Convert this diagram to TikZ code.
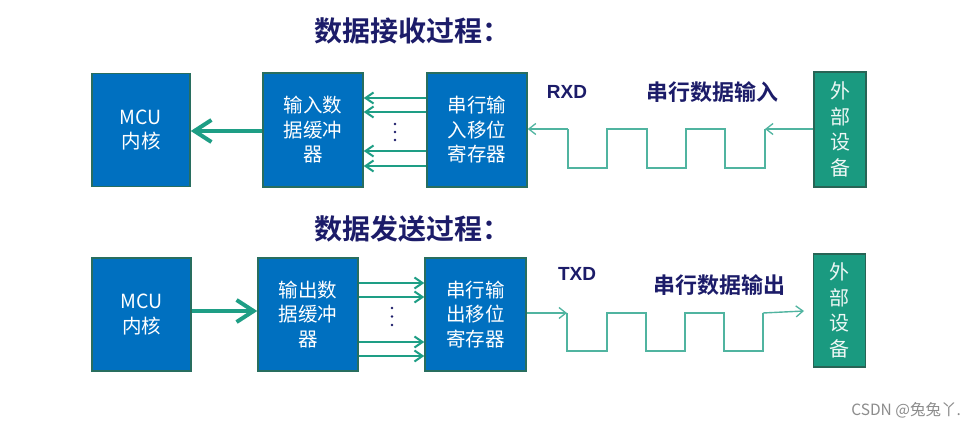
\documentclass[tikz,border=0pt]{standalone}
\usepackage{fontspec}
\setmainfont{Liberation Sans}
\newfontfamily\cjk{Noto Sans CJK SC}
\newfontfamily\cjkb{Noto Sans CJK SC Bold}
\newfontfamily\arialb{Liberation Sans Bold}
\usetikzlibrary{arrows.meta}
\definecolor{boxblue}{RGB}{0,112,192}
\definecolor{boxedge}{RGB}{40,110,95}
\definecolor{extfill}{RGB}{26,154,128}
\definecolor{extedge}{RGB}{40,100,85}
\definecolor{arrowteal}{RGB}{30,158,133}
\definecolor{wavecol}{RGB}{80,180,160}
\definecolor{navy}{RGB}{28,28,105}
\tikzset{
  blk/.style={draw=boxedge, line width=1.5pt, fill=boxblue, text=white,
    font=\cjk\fontsize{19.5}{24.5}\selectfont, align=center, inner sep=0pt},
  extblk/.style={draw=extedge, line width=1.5pt, fill=extfill, text=white!92!extfill,
    font=\cjk\fontsize{20}{25.5}\selectfont, align=center, inner sep=0pt,
    minimum width=52pt},
  thick arr/.style={draw=arrowteal, line width=4pt,
    -{Straight Barb[length=17pt, width=22pt, line width=4pt]}},
  thin arr/.style={draw=arrowteal, line width=2pt,
    -{Straight Barb[length=8pt, width=11pt, line width=2pt]}},
  wave/.style={draw=wavecol, line width=1.4pt},
  wavearr/.style={wave, -{Straight Barb[length=7pt, width=11pt, line width=1.3pt]}},
  ttl/.style={text=navy, font=\cjkb\fontsize{28}{32}\selectfont, anchor=west, inner sep=0pt},
  lbl/.style={text=navy, font=\cjkb\fontsize{22}{26}\selectfont, inner sep=0pt},
  sig/.style={text=navy, font=\arialb\fontsize{19}{22}\selectfont, inner sep=0pt},
  dotc/.style={fill=navy, draw=none},
}
\begin{document}
\begin{tikzpicture}[x=1pt,y=-1pt]
\useasboundingbox[fill=white] (0,0) rectangle (974,427);

% ---------- Receive ----------
\node[ttl] (t1) at (314,31) {数据接收过程：};

\node[blk, minimum width=98pt, minimum height=113pt] (mcu1) at (141,130) {MCU\\内核};
\node[blk, minimum width=100pt, minimum height=114pt] (buf1) at (313,130) {输入数\\据缓冲\\器};
\node[blk, minimum width=100pt, minimum height=114pt] (sr1) at (477,130) {串行输\\入移位\\寄存器};
\node[extblk, minimum height=115pt] (ext1) at (840,129.5) {外\\部\\设\\备};

\draw[thick arr] (buf1.west |- 0,131) -- (mcu1.east |- 0,131);
\foreach \yy in {98,112,151,166}
  \draw[thin arr] (sr1.west |- 0,\yy) -- (buf1.east |- 0,\yy);
\foreach \yy in {124,132,140}
  \fill[dotc] (395,\yy) circle (1.3pt);

\node[sig] (rxd) at (567,92) {RXD};
\node[lbl] (rin) at (712,92) {串行数据输入};

\coordinate (w1s) at (765,129);
\draw[wave] (w1s) -- (765,168) -- (725,168) -- (725,129) -- (686,129) -- (686,168)
  -- (647,168) -- (647,129) -- (607,129) -- (607,168) -- (568,168) -- (568,129);
\draw[wavearr] (568,129) -- (sr1.east |- 0,129);
\draw[wavearr] (ext1.west |- 0,129) -- (w1s);

% ---------- Transmit ----------
\node[ttl] (t2) at (314,229) {数据发送过程：};

\node[blk, minimum width=99pt, minimum height=113pt] (mcu2) at (141.5,314.5) {MCU\\内核};
\node[blk, minimum width=100pt, minimum height=113pt] (buf2) at (308,314.5) {输出数\\据缓冲\\器};
\node[blk, minimum width=101pt, minimum height=113pt] (sr2) at (475.5,314.5) {串行输\\出移位\\寄存器};
\node[extblk, minimum height=113pt] (ext2) at (839.5,310.5) {外\\部\\设\\备};

\draw[thick arr] (mcu2.east |- 0,311) -- (buf2.west |- 0,311);
\foreach \yy in {283,297,342,356}
  \draw[thin arr] (buf2.east |- 0,\yy) -- (sr2.west |- 0,\yy);
\foreach \yy in {308,316.5,325}
  \fill[dotc] (392,\yy) circle (1.3pt);

\node[sig] (txd) at (577,274) {TXD};
\node[lbl] (rout) at (719,285) {串行数据输出};

\coordinate (w2s) at (567,313);
\coordinate (w2e) at (804,311);
\draw[wavearr] (sr2.east |- 0,313) -- (w2s);
\draw[wave] (w2s) -- (567,351) -- (607,351) -- (607,313) -- (646,313) -- (646,351)
  -- (685,351) -- (685,313) -- (724,313) -- (724,351) -- (763,351) -- (763,313);
\draw[wavearr] (763,313) -- (w2e);

% watermark
\node[text=black!45, font=\cjk\fontsize{15.5}{18}\selectfont, anchor=east, inner sep=0pt] (wm) at (961,410) {CSDN @兔兔丫.};
\end{tikzpicture}
\end{document}
